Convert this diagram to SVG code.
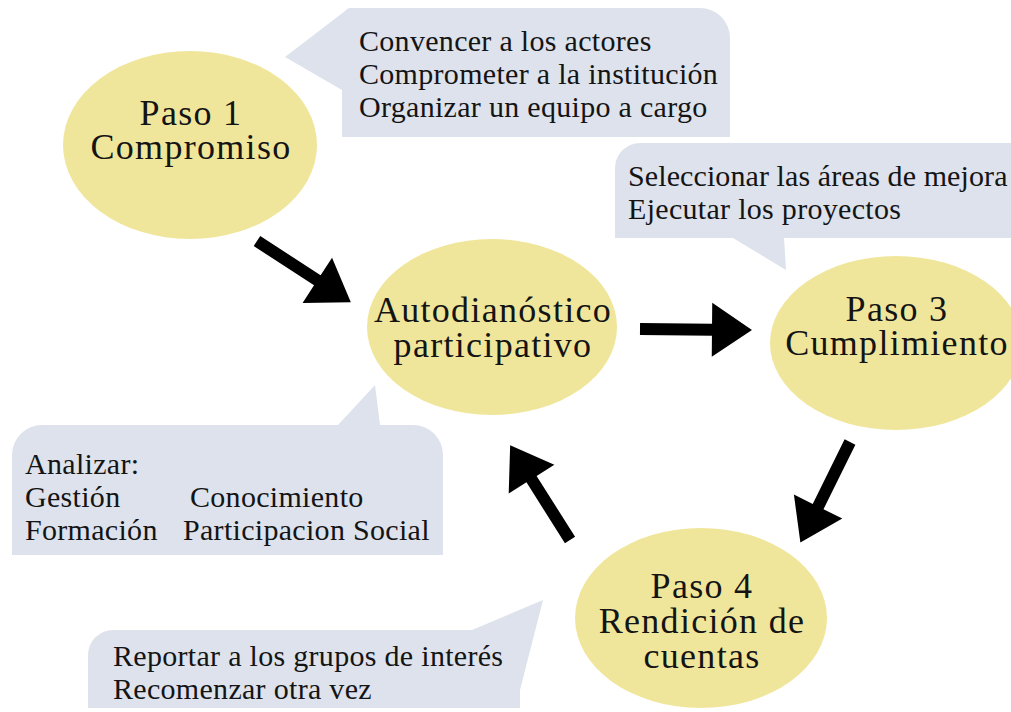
<svg xmlns="http://www.w3.org/2000/svg" xmlns:xlink="http://www.w3.org/1999/xlink" width="1011" height="712" viewBox="0 0 1011 712">
<style>
.callout{fill:#dde2ec}
.node{fill:#f0e69b}
.ct{font-family:"Liberation Serif","Times New Roman",serif;font-size:30px;letter-spacing:0.3px;fill:#141414}
.nt{font-family:"Liberation Serif","Times New Roman",serif;font-size:36px;letter-spacing:1.3px;fill:#141414;text-anchor:middle}
.arrow{fill:#000}
</style>
<defs>
<polygon id="arrow" points="0,-6 72,-6 72,-27 112,0 72,27 72,6 0,6"/>
</defs>
<rect width="1011" height="712" fill="#fff"/>
<g id="callout-1">
<path class="callout" d="M350 8 H700 A30 30 0 0 1 730 38 V137 H342 V90 L285 57 L345 11 Q347 8 350 8 Z"/>
<text class="ct" x="359" y="51">Convencer a los actores</text>
<text class="ct" x="359" y="84">Comprometer a la institución</text>
<text class="ct" x="359" y="117">Organizar un equipo a cargo</text>
</g>
<g id="callout-2">
<path class="callout" d="M640 143 H1020 V238 H784 L786 270 L733 238 H615 V168 A25 25 0 0 1 640 143 Z"/>
<text class="ct" x="628" y="186" style="letter-spacing:0.1px">Seleccionar las áreas de mejora</text>
<text class="ct" x="628" y="219">Ejecutar los proyectos</text>
</g>
<g id="callout-3">
<path class="callout" d="M12 455 A30 30 0 0 1 42 425 H338 L375 385 L380 425 H413 A30 30 0 0 1 443 455 V555 H12 Z"/>
<text class="ct" x="25" y="474">Analizar:</text>
<text class="ct" x="25" y="507">Gestión</text>
<text class="ct" x="190" y="507">Conocimiento</text>
<text class="ct" x="25" y="540">Formación</text>
<text class="ct" x="183" y="540">Participacion Social</text>
</g>
<g id="callout-4">
<path class="callout" d="M88 655 A25 25 0 0 1 113 630 H472 L543 600 L520 690 V708 H88 Z"/>
<text class="ct" x="113" y="666">Reportar a los grupos de interés</text>
<text class="ct" x="113" y="699">Recomenzar otra vez</text>
</g>
<g id="node-paso1">
<ellipse class="node" cx="190" cy="145" rx="127" ry="94"/>
<text class="nt" x="191" y="125">Paso 1</text>
<text class="nt" x="191" y="159">Compromiso</text>
</g>
<g id="node-autodiagnostico">
<ellipse class="node" cx="492" cy="327" rx="125" ry="88"/>
<text class="nt" x="493" y="322">Autodianóstico</text>
<text class="nt" x="493" y="357">participativo</text>
</g>
<g id="node-paso3">
<ellipse class="node" cx="896" cy="343" rx="126" ry="87"/>
<text class="nt" x="897" y="321">Paso 3</text>
<text class="nt" x="897" y="355">Cumplimiento</text>
</g>
<g id="node-paso4">
<ellipse class="node" cx="701" cy="618" rx="126" ry="90"/>
<text class="nt" x="702" y="598">Paso 4</text>
<text class="nt" x="702" y="633">Rendición de</text>
<text class="nt" x="702" y="668">cuentas</text>
</g>
<g id="connectors" class="arrow">
<use xlink:href="#arrow" transform="translate(257,241) rotate(33.1)"/>
<use xlink:href="#arrow" transform="translate(640,329) rotate(0.5)"/>
<use xlink:href="#arrow" transform="translate(850,442) rotate(116.3)"/>
<use xlink:href="#arrow" transform="translate(570,540) rotate(237.7)"/>
</g>
</svg>
